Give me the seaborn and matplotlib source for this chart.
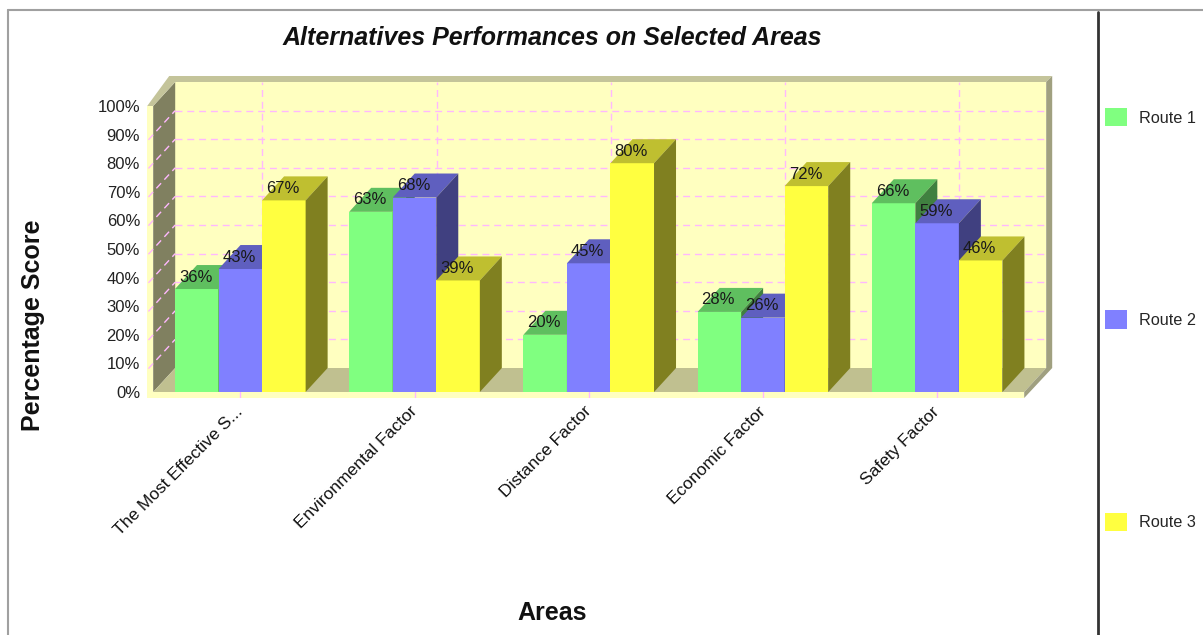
import numpy as np
import pandas as pd
import matplotlib
matplotlib.use("Agg")
import matplotlib.pyplot as plt
import matplotlib.colors as mcolors
from matplotlib.patches import Polygon, Rectangle, Patch
from matplotlib.lines import Line2D
import seaborn as sns

# ---------------- data ----------------
categories = ["The Most Effective S...", "Environmental Factor", "Distance Factor",
              "Economic Factor", "Safety Factor"]
series_names = ["Route 1", "Route 2", "Route 3"]
route1 = [36, 63, 20, 28, 66]
route2 = [43, 68, 45, 26, 59]
route3 = [67, 39, 80, 72, 46]
y_ticks = [0, 10, 20, 30, 40, 50, 60, 70, 80, 90, 100]
y_tick_labels = [f"{v}%" for v in y_ticks]
title = "Alternatives Performances on Selected Areas"
x_label = "Areas"
y_label = "Percentage Score"

# ---------------- styles ----------------
front_colors = ["#80FF80", "#8080FF", "#FFFF40"]
top_colors = ["#5FBF5F", "#5F5FBF", "#BFBF30"]
side_colors = ["#408040", "#404080", "#808020"]
wall_back = "#FFFFC0"
wall_left = "#808060"
floor_col = "#C0C090"
rim_top = "#C4C49A"
rim_side = "#A0A080"
grid_col = "#FFB8FF"

df = pd.DataFrame({
    "Area": categories * 3,
    "Route": [series_names[0]] * 5 + [series_names[1]] * 5 + [series_names[2]] * 5,
    "Score": route1 + route2 + route3,
})

sns.set_theme(style="white")
plt.rcParams["font.family"] = ["Liberation Sans", "DejaVu Sans"]

W, H = 1203, 635
fig = plt.figure(figsize=(W / 100, H / 100), dpi=100)
fig.patch.set_facecolor("white")

# pixel geometry of the 3D box
px_x0 = 153.2          # pixel x of category -0.5 (front)
pxx = 174.2            # px per category unit
px_y0 = 392.0          # pixel y of 0 %
pxy = 2.86             # px per percent
ddx = 22 / pxx         # depth offset (data units)
ddy = 24 / pxy
tx = 6 / pxx           # rim thickness
ty = 6 / pxy

ax_l, ax_r, ax_t, ax_b = 147, 1056, 70, 398
ax = fig.add_axes([ax_l / W, 1 - ax_b / H, (ax_r - ax_l) / W, (ax_b - ax_t) / H])

sns.barplot(data=df, x="Area", y="Score", hue="Route", palette=front_colors,
            saturation=1, width=0.75, gap=0, errorbar=None, legend=False,
            linewidth=0, edgecolor="none", ax=ax)

n = len(categories)
xlim = (-0.5 - (px_x0 - ax_l) / pxx, -0.5 + (ax_r - px_x0) / pxx)
ylim = (-(ax_b - px_y0) / pxy, (px_y0 - ax_t) / pxy)
ax.set_xlim(*xlim)
ax.set_ylim(*ylim)
ax.set_facecolor("none")
for s in ax.spines.values():
    s.set_visible(False)
ax.grid(False)

x0, x1 = -0.5, n - 0.5
y0, y1 = 0, 100

# ---------------- 3D box ----------------
ax.add_patch(Rectangle((x0 + ddx, y0 + ddy), x1 - x0, y1 - y0, fc=wall_back, ec="none", zorder=0.5))
ax.add_patch(Polygon([(x0, y0), (x0 + ddx, y0 + ddy), (x0 + ddx, y1 + ddy), (x0, y1)],
                     closed=True, fc=wall_left, ec="none", zorder=0.6))
ax.add_patch(Polygon([(x0, y0), (x1, y0), (x1 + ddx, y0 + ddy), (x0 + ddx, y0 + ddy)],
                     closed=True, fc=floor_col, ec="none", zorder=0.6))
# rims
ax.add_patch(Rectangle((x0 - tx, y0 - ty), tx, y1 - y0 + ty, fc=wall_back, ec="none", zorder=0.7))
ax.add_patch(Rectangle((x0 - tx, y0 - ty), x1 - x0 + tx, ty, fc=wall_back, ec="none", zorder=0.7))
ax.add_patch(Polygon([(x0 - tx, y1), (x0, y1), (x0 + ddx, y1 + ddy), (x1 + ddx, y1 + ddy),
                      (x1 + ddx + tx, y1 + ddy + ty), (x0 + ddx - tx, y1 + ddy + ty)],
                     closed=True, fc=rim_top, ec="none", zorder=0.7))
ax.add_patch(Polygon([(x1 + ddx, y1 + ddy), (x1 + ddx + tx, y1 + ddy + ty),
                      (x1 + ddx + tx, y0 + ddy), (x1, y0 - ty), (x1, y0), (x1 + ddx, y0 + ddy)],
                     closed=True, fc=rim_side, ec="none", zorder=0.7))

# grid
dash = dict(color=grid_col, lw=1.0, dashes=(5, 3.5), zorder=0.8)
for v in y_ticks[1:-1]:
    ax.plot([x0 + ddx, x1 + ddx], [v + ddy, v + ddy], **dash)
    ax.plot([x0 - tx * 0.8, x0 + ddx], [v - ddy * (tx * 0.8) / ddx, v + ddy], **dash)
for i in range(n):
    ax.plot([i + ddx, i + ddx], [y0 + ddy, y1 + ddy], **dash)
    ax.plot([i, i], [y0, y0 - ty], color=grid_col, lw=1.0, zorder=0.8)

# ---------------- 3D faces of bars ----------------
bars = [p for p in ax.patches if isinstance(p, Rectangle) and p.get_height() > 0
        and mcolors.to_hex(p.get_facecolor()).upper() in [c.upper() for c in front_colors]]
bars.sort(key=lambda p: p.get_x())
hexmap = {c.upper(): k for k, c in enumerate(front_colors)}
for rank, p in enumerate(bars):
    k = hexmap[mcolors.to_hex(p.get_facecolor()).upper()]
    bx0 = p.get_x(); bx1 = bx0 + p.get_width(); h = p.get_height()
    z = 2 + rank * 0.1
    p.set_zorder(z)
    ax.add_patch(Polygon([(bx0, h), (bx1, h), (bx1 + ddx, h + ddy), (bx0 + ddx, h + ddy)],
                         closed=True, fc=top_colors[k], ec="none", zorder=z))
    ax.add_patch(Polygon([(bx1, 0), (bx1 + ddx, ddy), (bx1 + ddx, h + ddy), (bx1, h)],
                         closed=True, fc=side_colors[k], ec="none", zorder=z))
    ax.text((bx0 + bx1) / 2 - 1 / pxx, h + 12 / pxy, f"{h:.0f}%", ha="center", va="center",
            fontsize=12, color="#1a1a1a", zorder=50)

# ---------------- axes text ----------------
ax.set_yticks(y_ticks)
ax.set_yticklabels(y_tick_labels, fontsize=12, color="#222222")
ax.tick_params(axis="y", length=0, pad=5)
ax.set_xticks(range(n))
ax.set_xticklabels(categories, rotation=45, ha="right", va="center",
                   rotation_mode="anchor", fontsize=12.5, color="#111111")
ax.tick_params(axis="x", length=0, pad=8)
ax.set_xlabel("")
ax.set_ylabel("")

cx = (8 + 1097) / 2 / W
fig.text(cx, 1 - 38 / H, title, ha="center", va="center", fontsize=18,
         fontweight="bold", fontstyle="italic", color="#111111")
fig.text(cx, 1 - 613 / H, x_label, ha="center", va="center", fontsize=18,
         fontweight="bold", color="#111111")
fig.text(33 / W, 1 - 325 / H, y_label, ha="center", va="center", rotation=90,
         fontsize=18, fontweight="bold", color="#111111")

# ---------------- legend ----------------
handles = [Patch(facecolor=c, edgecolor="none") for c in front_colors]
fs = 11.7
fpx = fs * 100 / 72
fig.legend(handles, series_names, loc="upper left",
           bbox_to_anchor=(1105 / W, 1 - 108 / H), frameon=False, fontsize=fs,
           handlelength=22 / fpx, handleheight=22 / fpx, handletextpad=12 / fpx,
           labelspacing=(206 - 22) / fpx, borderpad=0, borderaxespad=0)

# ---------------- frame lines ----------------
fig.add_artist(Line2D([8 / W, 1], [1 - 10 / H, 1 - 10 / H], transform=fig.transFigure,
                      color="#A0A0A0", lw=1.5))
fig.add_artist(Line2D([8 / W, 8 / W], [0, 1 - 10 / H], transform=fig.transFigure,
                      color="#A0A0A0", lw=1.5))
fig.add_artist(Line2D([1098 / W, 1098 / W], [0, 1 - 12 / H], transform=fig.transFigure,
                      color="#333333", lw=2))

fig.savefig("out.png", dpi=100)
